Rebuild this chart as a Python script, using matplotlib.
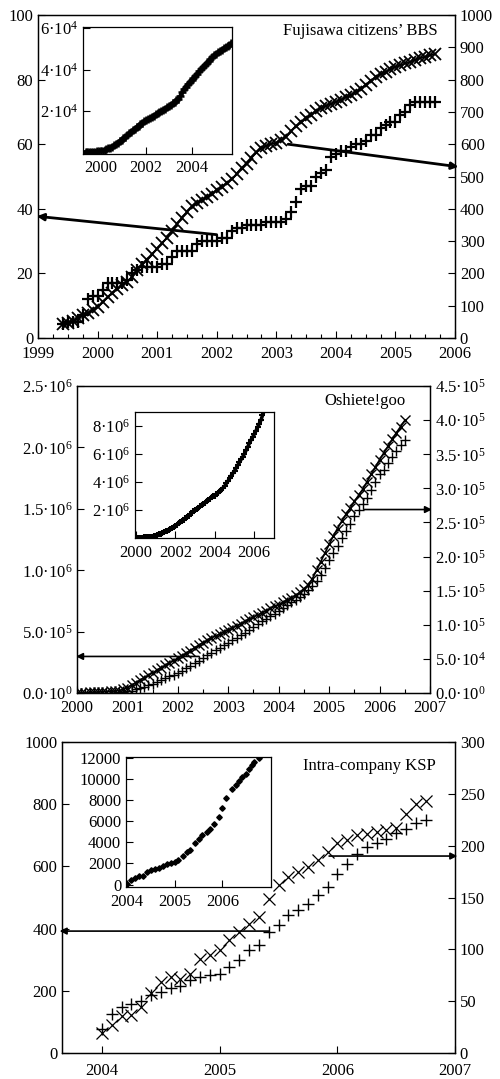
import numpy as np
import matplotlib
matplotlib.use("Agg")
import matplotlib.pyplot as plt

plt.rcParams['font.family'] = 'Liberation Serif'
plt.rcParams['mathtext.fontset'] = 'custom'
plt.rcParams['mathtext.rm'] = 'Liberation Serif'
plt.rcParams['mathtext.it'] = 'Liberation Serif:italic'
plt.rcParams['font.size'] = 12

# ---- Fujisawa citizens' BBS (monthly, starting May 1999) ----
bbs_start = 1999 + 5 / 12
bbs_threads = [4.5, 5, 5, 5, 7, 12, 13, 13, 15, 17, 17, 17, 17, 18, 20, 21, 22, 22, 22, 22,
               23, 23, 25, 27, 27, 27, 27, 29, 30, 30, 30, 30, 31, 31, 33, 34, 34, 35, 35, 35,
               35, 36, 36, 36, 36, 37, 39, 42, 46, 47, 47, 50, 51, 52, 56, 57, 58, 58, 59, 60,
               60, 61, 63, 63, 65, 66, 67, 67, 69, 70, 72, 73, 73, 73, 73, 73]
bbs_posts = [45, 46, 53, 62, 70, 78, 87, 96, 113, 127, 140, 153, 165, 174, 190, 212, 228, 242, 259, 277,
             294, 311, 331, 353, 373, 390, 408, 418, 427, 436, 446, 458, 468, 479, 491, 508, 527, 540, 558, 575,
             588, 595, 601, 605, 612, 623, 640, 656, 668, 680, 691, 702, 711, 719, 725, 731, 738, 745, 752, 761,
             772, 783, 797, 807, 816, 824, 832, 840, 844, 850, 855, 861, 867, 871, 875, 880]
bbs_inset_start = 1999 + 4 / 12
bbs_inset = [100, 150, 200, 250, 300, 350, 420, 500, 600, 800, 1100, 1500, 1900, 2300, 2700, 3300,
             4000, 4700, 5400, 6000, 6700, 7500, 8300, 9100, 9900, 10700, 11500, 12200, 12900, 13600,
             14300, 14900, 15600, 16100, 16700, 17200, 17800, 18300, 18800, 19400, 20000, 20600, 21100,
             21700, 22300, 23000, 23700, 24400, 25100, 25800, 27000, 29000, 30500, 31800, 33000, 33900,
             34800, 35900, 37000, 38100, 39100, 40200, 41300, 42300, 43200, 44100, 45100, 46000, 46900,
             47600, 48300, 48900, 49600, 50300, 50900, 51500, 52100, 52800]

# ---- Oshiete!goo (monthly, starting Jan 2000) ----
goo_start = 2000.0
goo_questions = [0, 0, 0, 0, 0, 0, 0, 0, 0, 0.002, 0.005, 0.01,
                 0.014, 0.02, 0.03, 0.04, 0.05, 0.062, 0.075, 0.09, 0.105, 0.12, 0.135, 0.15,
                 0.165, 0.18, 0.20, 0.22, 0.245, 0.265, 0.285, 0.31, 0.33, 0.35, 0.37, 0.39,
                 0.41, 0.43, 0.45, 0.47, 0.49, 0.515, 0.54, 0.565, 0.585, 0.605, 0.625, 0.645,
                 0.665, 0.69, 0.715, 0.74, 0.76, 0.785, 0.81, 0.84, 0.87, 0.91, 0.96, 1.02,
                 1.08, 1.14, 1.20, 1.26, 1.32, 1.38, 1.44, 1.49, 1.54, 1.59, 1.65, 1.72,
                 1.78, 1.82, 1.87, 1.92, 1.97, 2.02, 2.06]  # x 1e6, left axis
goo_users = [0, 0, 0, 0.009, 0.009, 0.014, 0.018, 0.022, 0.025, 0.029, 0.036, 0.054,
             0.081, 0.117, 0.153, 0.189, 0.225, 0.261, 0.297, 0.333, 0.369, 0.405, 0.441, 0.477,
             0.513, 0.549, 0.585, 0.621, 0.666, 0.702, 0.738, 0.774, 0.81, 0.837, 0.864, 0.90,
             0.927, 0.954, 0.99, 1.017, 1.053, 1.08, 1.116, 1.143, 1.179, 1.206, 1.242, 1.269,
             1.296, 1.332, 1.359, 1.395, 1.431, 1.476, 1.53, 1.584, 1.674, 1.80, 1.926, 2.052,
             2.178, 2.304, 2.412, 2.52, 2.619, 2.709, 2.808, 2.898, 2.988, 3.096, 3.204, 3.312,
             3.42, 3.519, 3.618, 3.717, 3.816, 3.906, 3.996]  # x 1e5, right axis
goo_inset = [0.01, 0.01, 0.01, 0.01, 0.015, 0.02, 0.025, 0.03, 0.04, 0.05, 0.07, 0.1,
             0.14, 0.18, 0.23, 0.28, 0.33, 0.39, 0.45, 0.51, 0.58, 0.65, 0.72, 0.80,
             0.87, 0.94, 1.02, 1.10, 1.19, 1.28, 1.38, 1.48, 1.58, 1.68, 1.79, 1.90,
             2.0, 2.08, 2.16, 2.24, 2.32, 2.40, 2.50, 2.60, 2.70, 2.80, 2.90, 2.95,
             3.0, 3.1, 3.2, 3.32, 3.45, 3.58, 3.7, 3.88, 4.06, 4.25, 4.45, 4.62,
             4.8, 5.0, 5.2, 5.4, 5.6, 5.8, 6.0, 6.25, 6.5, 6.75, 7.0, 7.2,
             7.4, 7.65, 7.9, 8.15, 8.4, 8.75, 9.1]  # x 1e6

# ---- Intra-company KSP (monthly, starting Jan 2004) ----
ksp_start = 2004.0
ksp_left = [78, 126, 148, 156, 166, 185, 196, 209, 215, 234, 244, 250, 255, 277, 298, 330, 346,
            389, 410, 445, 461, 480, 507, 534, 577, 609, 641, 662, 675, 689, 707, 721, 740, 750]
ksp_right = [19.3, 26.7, 35.4, 36.3, 44.4, 57.9, 68.5, 73.3, 71.7, 76.5, 91.0, 94.9, 99.0, 108.7,
             116.7, 124.1, 131.2, 148.2, 161.7, 169.8, 174.6, 179.4, 185.9, 193.9, 202.6, 205.8,
             210.0, 211.6, 213.2, 215.4, 217.4, 230.2, 240.5, 242.8]
ksp_inset_t = [2004.00, 2004.08, 2004.17, 2004.25, 2004.33, 2004.42, 2004.50, 2004.58, 2004.67,
               2004.75, 2004.83, 2004.92, 2005.00, 2005.08, 2005.17, 2005.25, 2005.33, 2005.42,
               2005.50, 2005.58, 2005.67, 2005.75, 2005.83, 2005.92, 2006.00, 2006.08, 2006.21,
               2006.28, 2006.35, 2006.42, 2006.49, 2006.56, 2006.62, 2006.67, 2006.77]
ksp_inset = [30, 400, 650, 770, 860, 1230, 1380, 1450, 1570, 1750, 1910, 2000, 2150, 2340, 2710,
             3050, 3230, 3940, 4340, 4710, 4950, 5260, 5690, 6400, 7280, 8180, 9070, 9450, 9790,
             10170, 10490, 10900, 11280, 11590, 12000]


def months(start, n):
    return start + np.arange(n) / 12


def style(ax, xpad=5):
    ax.tick_params(direction='in', length=5, width=0.8, labelsize=12)
    ax.tick_params(axis='x', pad=xpad)
    ax.tick_params(which='minor', direction='in', length=3, width=0.8)
    for s in ax.spines.values():
        s.set_linewidth(0.9)


def sci(m, e):
    return m + '·10$^{' + e + '}$'


def arrow(ax, start, end, lw):
    ax.annotate('', xy=end, xytext=start, annotation_clip=False,
                arrowprops=dict(arrowstyle='-|>', color='k', lw=lw, mutation_scale=10,
                                shrinkA=0, shrinkB=0))


fig = plt.figure(figsize=(5, 10.79), dpi=100)

# ================= panel 1 =================
ax = fig.add_axes([0.076, 0.6867, 0.834, 0.2994])
ax2 = ax.twinx()
t1 = months(bbs_start, len(bbs_posts))
ax.plot(t1, bbs_threads, ls='none', marker='+', ms=8, mew=1.6, color='k')
ax2.plot(t1, bbs_posts, ls='-', lw=1.3, marker='x', ms=8, mew=1.3, color='k')
ax.set_xlim(1999, 2006)
ax.set_ylim(0, 100)
ax2.set_ylim(0, 1000)
ax.set_xticks(range(1999, 2007))
ax.set_xticks(np.arange(1999, 2006.01, 0.25), minor=True)
ax.set_yticks(range(0, 101, 20))
ax2.set_yticks(range(0, 1001, 100))
style(ax, 6)
style(ax2, 6)
ax.text(0.959, 0.975, 'Fujisawa citizens\u2019 BBS', transform=ax.transAxes,
        ha='right', va='top', fontsize=12)
arrow(ax, (2002.0, 32), (1998.98, 37.7), 2.0)
arrow(ax2, (2003.2, 600), (2006.06, 530), 2.0)

ins = fig.add_axes([0.166, 0.8573, 0.298, 0.1177])
ins.plot(months(bbs_inset_start, len(bbs_inset)), bbs_inset, ls='-', lw=3,
         marker='+', ms=6, mew=1.8, color='k')
ins.set_xlim(1999.22, 2005.78)
ins.set_ylim(-800, 60600)
ins.set_xticks([2000, 2002, 2004])
ins.set_yticks([20000, 40000, 60000])
ins.set_yticklabels([sci('2', '4'), sci('4', '4'), sci('6', '4')])
style(ins, 4)

# ================= panel 2 =================
bx = fig.add_axes([0.154, 0.3577, 0.706, 0.2845])
bx2 = bx.twinx()
t2 = months(goo_start, len(goo_users))
bx.plot(t2, np.array(goo_questions) * 1e6, ls='none', marker='+', ms=7, mew=1.0, color='k')
bx2.plot(t2, np.array(goo_users) * 1e5, ls='-', lw=1.2, marker='x', ms=7, mew=1.0, color='k')
bx.set_xlim(2000, 2007)
bx.set_ylim(0, 2.5e6)
bx2.set_ylim(0, 4.5e5)
bx.set_xticks(range(2000, 2008))
bx.set_xticks(np.arange(2000, 2007.01, 0.5), minor=True)
bx.set_yticks(np.arange(0, 2.51e6, 0.5e6))
bx.set_yticklabels([sci('0.0', '0'), sci('5.0', '5'), sci('1.0', '6'), sci('1.5', '6'),
                    sci('2.0', '6'), sci('2.5', '6')])
bx2.set_yticks(np.arange(0, 4.51e5, 0.5e5))
bx2.set_yticklabels([sci('0.0', '0'), sci('5.0', '4'), sci('1.0', '5'), sci('1.5', '5'),
                     sci('2.0', '5'), sci('2.5', '5'), sci('3.0', '5'), sci('3.5', '5'),
                     sci('4.0', '5'), sci('4.5', '5')])
style(bx, 5)
style(bx2, 5)
bx.text(0.932, 0.977, 'Oshiete!goo', transform=bx.transAxes, ha='right', va='top', fontsize=12)
arrow(bx, (2002.42, 2.98e5), (1999.98, 2.98e5), 1.2)
arrow(bx2, (2005.69, 2.69e5), (2007.04, 2.69e5), 1.2)

ins2 = fig.add_axes([0.27, 0.5014, 0.278, 0.1168])
ins2.plot(months(goo_start, len(goo_inset)), np.array(goo_inset) * 1e6, ls='-', lw=2.5,
          marker='+', ms=4, mew=1.5, color='k')
ins2.set_xlim(1999.95, 2007)
ins2.set_ylim(-0.02e6, 9.0e6)
ins2.set_xticks([2000, 2002, 2004, 2006])
ins2.set_yticks([2e6, 4e6, 6e6, 8e6])
ins2.set_yticklabels([sci('2', '6'), sci('4', '6'), sci('6', '6'), sci('8', '6')])
style(ins2, 5)

# ================= panel 3 =================
cx = fig.add_axes([0.124, 0.0241, 0.786, 0.2882])
cx2 = cx.twinx()
t3 = months(ksp_start, len(ksp_left))
cx.plot(t3, ksp_left, ls='none', marker='+', ms=9, mew=1.0, color='k')
cx2.plot(t3, ksp_right, ls='none', marker='x', ms=9, mew=0.9, color='k')
cx.set_xlim(2003.66, 2007)
cx.set_ylim(0, 1000)
cx2.set_ylim(0, 300)
cx.set_xticks(range(2004, 2008))
cx.set_yticks(range(0, 1001, 200))
cx2.set_yticks(range(0, 301, 50))
style(cx, 7)
style(cx2, 7)
cx.text(0.952, 0.95, 'Intra-company KSP', transform=cx.transAxes, ha='right', va='top', fontsize=12)
arrow(cx, (2005.42, 392), (2003.64, 392), 1.2)
arrow(cx2, (2005.93, 190), (2007.02, 190), 1.2)

ins3 = fig.add_axes([0.252, 0.178, 0.29, 0.1205])
ins3.plot(ksp_inset_t, ksp_inset, ls='none', marker='D', ms=2.8, color='k')
ins3.set_xlim(2003.98, 2007.02)
ins3.set_ylim(-220, 12060)
ins3.set_xticks([2004, 2005, 2006])
ins3.set_yticks(range(0, 12001, 2000))
style(ins3, 5)

fig.savefig('out.png', dpi=100)
